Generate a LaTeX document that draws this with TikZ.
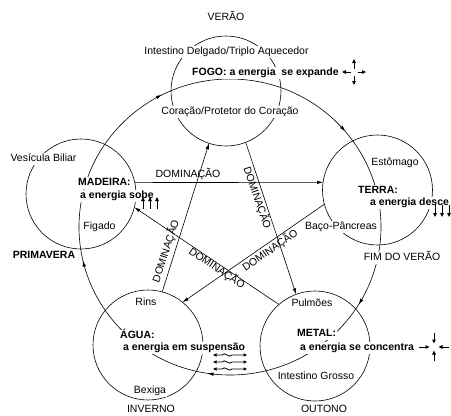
\documentclass[tikz,border=0pt]{standalone}
\usepackage{fontspec}
\setmainfont{Liberation Sans}
\usetikzlibrary{arrows.meta,decorations.markings}
\begin{document}
\begin{tikzpicture}[x=1pt,y=-1pt,
  lw/.style={line width=0.6pt},
  organ/.style={fill=white, inner sep=1pt, text height=7.5pt, text depth=2pt, font=\fontsize{10.5}{12}\selectfont},
  elem/.style={organ, font=\fontsize{10.5}{12}\selectfont\bfseries},
  phase/.style={circle, draw, lw, minimum size=110pt, inner sep=0pt, outer sep=0pt},
  dom/.style={-{Latex[length=6pt,width=3.5pt]}, lw},
  domlab/.style={inner sep=0.5pt, text height=7.5pt, text depth=2pt, font=\fontsize{10.5}{12}\selectfont},
  sa/.style={-{Triangle[length=4pt,width=3.6pt]}, line width=1pt},
  bigtip/.style={decoration={markings,
     mark=at position 0.087 with {\arrow{Latex[length=6pt,width=3.5pt]}},
     mark=at position 0.274 with {\arrow{Latex[length=6pt,width=3.5pt]}},
     mark=at position 0.464 with {\arrow{Latex[length=6pt,width=3.5pt]}},
     mark=at position 0.675 with {\arrow{Latex[length=6pt,width=3.5pt]}},
     mark=at position 0.889 with {\arrow{Latex[length=6pt,width=3.5pt]}}}, postaction={decorate}}
  ]
\useasboundingbox (0,0) rectangle (451,416);
\fill[white] (0,0) rectangle (451,416);

% five phases
\node[phase] (fogo) at (226,91) {};
\node[phase] (madeira) at (81,194) {};
\node[phase] (terra) at (377.5,190) {};
\node[phase] (agua) at (148,345) {};
\node[phase] (metal) at (315,346) {};

% generating cycle
\coordinate (cyc) at (230,227);
\draw[lw, bigtip] (cyc) ellipse [x radius=151, y radius=148];

% domination cycle
\draw[dom] (madeira.12) -- (terra.172);
\draw[dom] (terra.195) -- (agua.51);
\draw[dom] (agua.75) -- (fogo.252);
\draw[dom] (fogo.291) -- (metal.110);
\draw[dom] (metal.131) -- (madeira.346);

\node[domlab] (d1) at (188,175) {DOMINAÇÃO};
\node[domlab, rotate=72] (d2) at (166.5,251.5) {DOMINAÇÃO};
\node[domlab, rotate=-71] (d3) at (256.5,198) {DOMINAÇÃO};
\node[domlab, rotate=-34] (d4) at (216.5,269) {DOMINAÇÃO};
\node[domlab, rotate=35] (d5) at (270.5,251) {DOMINAÇÃO};

% FOGO
\node[organ] (verao) at (226,18) {VERÃO};
\node[organ] (idta) at (226.5,52) {Intestino Delgado/Triplo Aquecedor};
\node[elem, anchor=west] (fogot) at (191,73) {FOGO: a energia\ \ se expande};
\node[organ] (coracao) at (230,112) {Coração/Protetor do Coração};
\draw[sa] (350.5,72) -- (342,72);
\draw[sa] (357.5,72) -- (366,72);
\draw[sa] (354,68.5) -- (354,59);
\draw[sa] (354,75.5) -- (354,85);

% MADEIRA
\node[organ] (vesicula) at (43.5,159) {Vesícula Biliar};
\node[elem, anchor=west] (madt) at (77,183) {MADEIRA:};
\node[elem, anchor=west] (madt2) at (79,196) {a energia sobe};
\node[organ] (figado) at (99.5,227) {Figado};
\node[elem] (primavera) at (44,256) {PRIMAVERA};
\foreach \x in {143,150,157} \draw[sa] (\x,209) -- (\x,197);

% TERRA
\node[organ] (estomago) at (395,163) {Estômago};
\node[elem, anchor=west] (terrat) at (357,191) {TERRA:};
\node[elem, anchor=west] (terrat2) at (369,203) {a energia desce};
\node[organ] (baco) at (341,227) {Baço-Pâncreas};
\node[organ] (fim) at (402,258) {FIM DO VERÃO};
\foreach \x in {435,442,449} \draw[sa] (\x,205) -- (\x,217);

% AGUA
\node[organ] (rins) at (146,303) {Rins};
\node[elem, anchor=west] (aguat) at (119,336) {ÁGUA:};
\node[elem, anchor=west] (aguat2) at (122,348) {a energia em suspensão};
\node[organ] (bexiga) at (150,391) {Bexiga};
\node[organ] (inverno) at (151,410) {INVERNO};
\foreach \y in {355,362,369}
  \draw[line width=0.8pt, {Triangle[length=3.5pt,width=3.2pt]}-{Triangle[length=3.5pt,width=3.2pt]}]
    (213,\y) -- (222,\y) .. controls (225,\y-4) and (229,\y+4) .. (232,\y) -- (247,\y);

% METAL
\node[organ] (pulmoes) at (312,304) {Pulmões};
\node[elem, anchor=west] (metalt) at (296,334) {METAL:};
\node[elem, anchor=west] (metalt2) at (299,348) {a energia se concentra};
\node[organ] (grosso) at (316,377) {Intestino Grosso};
\node[organ] (outono) at (324,410) {OUTONO};
\draw[sa] (419,347) -- (429.5,347);
\draw[sa] (434,333) -- (434,343.5);
\draw[sa] (434,361) -- (434,350.5);
\draw[sa] (449,347) -- (438.5,347);
\end{tikzpicture}
\end{document}
